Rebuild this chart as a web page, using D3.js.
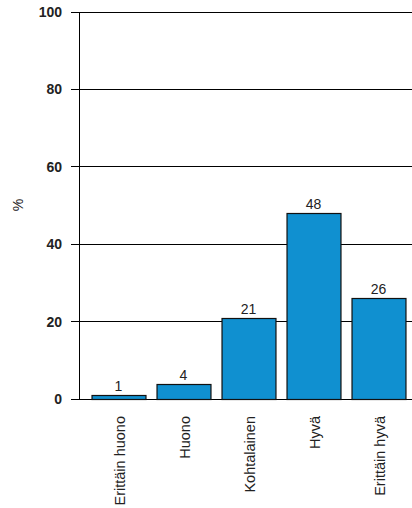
<!DOCTYPE html>
<html><head><meta charset="utf-8">
<script src="https://cdn.jsdelivr.net/npm/d3@7"></script>
<style>body{margin:0;background:#fff;} text{font-family:"Liberation Sans",Arial,sans-serif;}</style>
</head><body>
<svg id="c" width="412" height="508"></svg>
<script>
const categories = ["Erittäin huono","Huono","Kohtalainen","Hyvä","Erittäin hyvä"];
const values = [1,4,21,48,26];
const yTicks = [0,20,40,60,80,100];

const svg = d3.select("#c");
const y = d3.scaleLinear().domain([0,100]).range([399,12]);
const x = d3.scaleBand().domain(categories).range([86,411]).paddingInner(0.17).paddingOuter(0.085);

// gridlines
svg.append("g").selectAll("line").data(yTicks).join("line")
  .attr("x1",71).attr("x2",412).attr("y1",d=>y(d)).attr("y2",d=>y(d))
  .attr("stroke","#000").attr("stroke-width",1).attr("shape-rendering","crispEdges");
// axis line
svg.append("line").attr("x1",79).attr("x2",79).attr("y1",y(100)).attr("y2",y(0))
  .attr("stroke","#000").attr("shape-rendering","crispEdges");
// tick labels
svg.append("g").selectAll("text").data(yTicks).join("text")
  .attr("x",62).attr("y",d=>y(d)).attr("dy","0.35em").attr("text-anchor","end")
  .attr("font-size",14).attr("font-weight","bold").attr("fill","#222").text(d=>d);
// y title
svg.append("text").attr("transform","translate(23,"+205+") rotate(-90)")
  .attr("text-anchor","middle").attr("font-size",14).attr("fill","#222").text("%");

// bars
svg.append("g").selectAll("rect").data(values).join("rect")
  .attr("x",(d,i)=>x(categories[i])+0.5).attr("y",d=>Math.round(y(d))+0.5)
  .attr("width",x.bandwidth()).attr("height",d=>Math.round(y(0))-Math.round(y(d)))
  .attr("fill","#1090d0").attr("stroke","#111").attr("stroke-width",1.2);
// value labels
svg.append("g").selectAll("text").data(values).join("text")
  .attr("x",(d,i)=>x(categories[i])+x.bandwidth()/2).attr("y",d=>y(d)-4)
  .attr("text-anchor","middle").attr("font-size",14).attr("fill","#222").text(d=>d);
// category labels
svg.append("g").selectAll("text").data(categories).join("text")
  .attr("transform",d=>"translate("+(x(d)+x.bandwidth()/2+6)+",416) rotate(-90)")
  .attr("text-anchor","end").attr("font-size",14.5).attr("fill","#222").text(d=>d);
</script>
</body></html>
